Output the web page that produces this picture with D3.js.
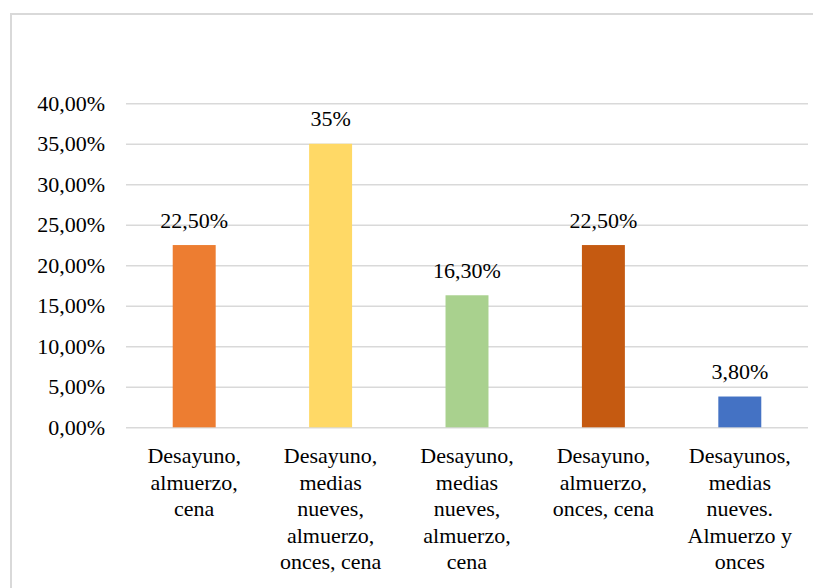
<!DOCTYPE html>
<html>
<head>
<meta charset="utf-8">
</head>
<body style="margin:0;background:#fff">
<svg width="813" height="588" font-family="Liberation Serif"></svg>
<script src="https://d3js.org/d3.v7.min.js"></script>
<script>

var categories = [
  "Desayuno, almuerzo, cena",
  "Desayuno, medias nueves, almuerzo, onces, cena",
  "Desayuno, medias nueves, almuerzo, cena",
  "Desayuno, almuerzo, onces, cena",
  "Desayunos, medias nueves. Almuerzo y onces"
];
var values = [0.225, 0.35, 0.163, 0.225, 0.038];
var valueLabels = ["22,50%", "35%", "16,30%", "22,50%", "3,80%"];
var colors = ["#ED7D31", "#FFD966", "#A9D18E", "#C55A11", "#4472C4"];
var yTicks = [0, 0.05, 0.10, 0.15, 0.20, 0.25, 0.30, 0.35, 0.40];

var FONT = "'Liberation Serif'";

var svg = d3.select("svg");

// chart border (only left and top visible in the crop)
svg.append("path")
    .attr("d", "M11,588V14H813")
    .attr("fill", "none")
    .attr("stroke", "#d9d9d9")
    .attr("stroke-width", 2);

var x = d3.scaleBand()
    .domain(categories)
    .range([126, 808])
    .paddingInner(0.685)
    .paddingOuter(0.685 / 2);

var y = d3.scaleLinear()
    .domain([0, 0.40])
    .range([427.3, 103.3]);

var fmt = function(d) { return d3.format(".2f")(d * 100).replace(".", ",") + "%"; };

// gridlines
var grid = svg.append("g")
    .attr("transform", "translate(126,0)")
    .call(d3.axisLeft(y).tickValues(yTicks).tickSize(-682).tickFormat(""));
grid.select(".domain").remove();
grid.selectAll("line").attr("stroke", "#d9d9d9").attr("stroke-width", 1.5);

// y tick labels
svg.selectAll("text.ytick")
  .data(yTicks)
  .enter().append("text")
    .attr("class", "ytick")
    .attr("x", 105)
    .attr("y", function(d) { return y(d) + 7.5; })
    .attr("text-anchor", "end")
    .style("font-family", FONT)
    .style("font-size", "22px")
    .text(fmt);

// bars
svg.selectAll("rect")
  .data(values)
  .enter().append("rect")
    .attr("x", function(d, i) { return x(categories[i]); })
    .attr("y", function(d) { return y(d); })
    .attr("width", x.bandwidth())
    .attr("height", function(d) { return y(0) - y(d); })
    .attr("fill", function(d, i) { return colors[i]; });

// data labels
svg.selectAll("text.val")
  .data(values)
  .enter().append("text")
    .attr("class", "val")
    .attr("x", function(d, i) { return x(categories[i]) + x.bandwidth() / 2; })
    .attr("y", function(d) { return y(d) - 17.5; })
    .attr("text-anchor", "middle")
    .style("font-family", FONT)
    .style("font-size", "22px")
    .text(function(d, i) { return valueLabels[i]; });

// category labels, wrapped once the font is ready
function drawCategories() {
  var cat = svg.selectAll("text.cat")
    .data(categories)
    .enter().append("text")
      .attr("class", "cat")
      .attr("text-anchor", "middle")
      .style("font-family", FONT)
      .style("font-size", "22px")
      .attr("x", function(d) { return x(d) + x.bandwidth() / 2; })
      .attr("y", 463);

  cat.each(function(d) {
    var text = d3.select(this),
        cx = +text.attr("x"),
        words = d.split(" "),
        line = [],
        tspan = text.append("tspan").attr("x", cx).attr("dy", 0);
    words.forEach(function(w) {
      line.push(w);
      tspan.text(line.join(" "));
      if (tspan.node().getComputedTextLength() > 118 && line.length > 1) {
        line.pop();
        tspan.text(line.join(" "));
        line = [w];
        tspan = text.append("tspan").attr("x", cx).attr("dy", 26.6).text(w);
      }
    });
  });
}

if (document.fonts && document.fonts.load) {
  document.fonts.load("22px 'Liberation Serif'").then(drawCategories, drawCategories);
} else {
  drawCategories();
}

</script>
</body>
</html>
